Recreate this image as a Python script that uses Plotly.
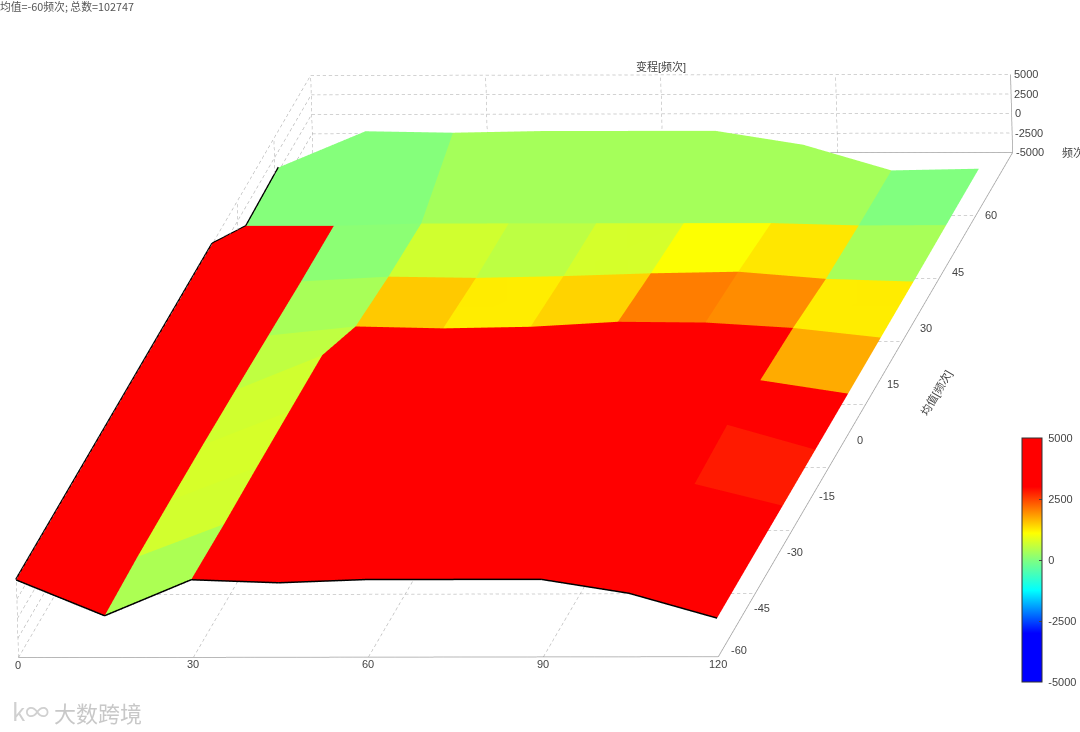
import numpy as np
import plotly.graph_objects as go

x_vals = [0, 15, 30, 45, 60, 75, 90, 105, 120]
y_vals = [-60, -45, -30, -15, 0, 15, 30, 45, 60]
z_rows = [
    [5000, 400, 5000, 4600, 5000, 5000, 5000, 3200, 0],
    [5000, 720, 4900, 5000, 5000, 5000, 5000, 3400, 0],
    [5000, 760, 5000, 5000, 5000, 5000, 5000, 2800, 0],
    [5000, 710, 5000, 5000, 5000, 5000, 5000, 3200, 0],
    [5000, 560, 5000, 5000, 5000, 5000, 5000, 1730, 0],
    [5000, 360, 1510, 1250, 1440, 2070, 1960, 1250, 0],
    [5000, 120, 710, 540, 750, 1100, 1290, 360, 0],
    [60, 60, 340, 340, 340, 340, 340, 30, 60],
    [400, 5000, 4800, 5000, 5000, 5000, 3200, -100, 100],
]
x_ticks = [0, 30, 60, 90, 120]
z_ticks = [-5000, -2500, 0, 2500, 5000]
x_frame = [0, 120]
y_frame = [-60, 75]
z_frame = [-5000, 5000]
x_range = [-1, 121]
y_range = [-61, 76]
z_range = [-5100, 5100]
floor_lines = [-60 + 135 * n / 8 for n in range(9)]
title_text = "均值=-60频次; 总数=102747"

colorscale = [
    [0.0, "rgb(0,0,255)"], [0.2, "rgb(0,0,255)"], [0.375, "rgb(0,255,255)"],
    [0.5, "rgb(128,255,128)"], [0.61, "rgb(255,255,0)"], [0.8, "rgb(255,0,0)"],
    [1.0, "rgb(255,0,0)"],
]

x0, x1 = x_frame
y0, y1 = y_frame
z0, z1 = z_frame
# Screen length (px) of the frame along each axis, used for the view and for the dash length.
V_frame = np.array([[700.0, 295.0, -2.0], [0.0, 504.0, 78.0]])
frame_spans = np.array([x1 - x0, y1 - y0, z1 - z0], dtype=float)
range_spans = np.array([x_range[1] - x_range[0], y_range[1] - y_range[0], z_range[1] - z_range[0]], dtype=float)
V = V_frame * (range_spans / frame_spans)

Z = np.array(z_rows, dtype=float)
nx, ny = len(x_vals), len(y_vals)
X, Y = np.meshgrid(x_vals, y_vals)
idx = lambda j, i: j * nx + i
tri_i, tri_j, tri_k, cell = [], [], [], []
for j in range(ny - 1):
    for i in range(nx - 1):
        tri_i += [idx(j, i), idx(j, i)]
        tri_j += [idx(j, i + 1), idx(j + 1, i + 1)]
        tri_k += [idx(j + 1, i + 1), idx(j + 1, i)]
        cell += [Z[j, i], Z[j, i]]

fig = go.Figure()
fig.add_trace(go.Mesh3d(
    x=X.ravel(), y=Y.ravel(), z=Z.ravel(), i=tri_i, j=tri_j, k=tri_k,
    intensity=cell, intensitymode="cell", colorscale=colorscale, cmin=-5000, cmax=5000,
    flatshading=True, hoverinfo="skip",
    lighting=dict(ambient=1, diffuse=0, specular=0, fresnel=0, roughness=1,
                  facenormalsepsilon=0, vertexnormalsepsilon=0),
    colorbar=dict(
        x=1022 / 1080, xanchor="left", xpad=0, y=1 - 438 / 732, yanchor="top", ypad=0,
        len=244 / 732, thickness=20, tickvals=z_ticks, ticktext=["\u00a0" + str(t) for t in z_ticks],
        ticks="inside", ticklen=3,
        outlinecolor="#333", outlinewidth=1, tickfont=dict(size=11, color="#444", family="Liberation Sans"),
    ),
))


def lines(segments, color, width=1):
    xs, ys, zs = [], [], []
    for a, b in segments:
        xs += [a[0], b[0], None]
        ys += [a[1], b[1], None]
        zs += [a[2], b[2], None]
    fig.add_trace(go.Scatter3d(x=xs, y=ys, z=zs, mode="lines", hoverinfo="skip", showlegend=False,
                               line=dict(color=color, width=width)))


def dashed(a, b, period=6.0):
    a, b = np.array(a, float), np.array(b, float)
    px = np.linalg.norm(V_frame @ ((b - a) / frame_spans))
    n = max(int(px / period), 1)
    out = []
    for m in range(n):
        s = a + (b - a) * m / n
        e = a + (b - a) * (m + 0.55) / n
        out.append((tuple(s), tuple(e)))
    return out


grid = []
for z in z_ticks:
    grid += dashed((x0, y1, z), (x1, y1, z))
    grid += dashed((x0, y0, z), (x0, y1, z))
for x in x_ticks:
    grid += dashed((x, y0, z0), (x, y1, z0))
    grid += dashed((x, y1, z0), (x, y1, z1))
for y in floor_lines:
    grid += dashed((x0, y, z0), (x1, y, z0))
    grid += dashed((x0, y, z0), (x0, y, z1))
lines(grid, "#a6a6a6")
lines([((x0, y0, z0), (x1, y0, z0)), ((x1, y0, z0), (x1, y1, z0)),
       ((x0, y1, z0), (x1, y1, z0)), ((x1, y1, z0), (x1, y1, z1))], "#a0a0a0", 1.5)

edge = [(x_vals[0] - 0.1, y_vals[j], Z[j, 0] + 10) for j in range(ny)]
lines(list(zip(edge[:-1], edge[1:])), "black", 3)
edge = [(x_vals[i], y_vals[0] - 0.1, Z[0, i]) for i in range(nx)]
lines(list(zip(edge[:-1], edge[1:])), "black", 3)

font = dict(size=11, color="#444", family="Liberation Sans, Noto Sans CJK SC")
ann = []
for x in x_ticks:
    ann.append(dict(x=x, y=y0, z=z0, text=str(x), showarrow=False, xanchor="center", yanchor="top", yshift=1, font=font))
for y in y_vals:
    ann.append(dict(x=x1, y=y, z=z0, text=str(y), showarrow=False, xanchor="center",
                    xshift=21 if y == -60 else 11, yshift=7 if y == -60 else -7, font=font))
for z in z_ticks:
    ann.append(dict(x=x1, y=y1, z=z, text=str(z), showarrow=False, xanchor="left", xshift=1, font=font))
ann.append(dict(x=60, y=y1, z=z1, text="变程[频次]", showarrow=False, yanchor="bottom", font=font))
ann.append(dict(x=x1, y=y1, z=z0, text="频次", showarrow=False, xanchor="left", xshift=47, font=font))
ann.append(dict(x=x1, y=0, z=z0, text="均值[频次]", showarrow=False, textangle=-60, xshift=87, yshift=40, font=font))

# Camera: an orthographic view whose x axis runs level across the picture.
w_z = -V[0, 1] * V[1, 1] / (V[0, 2] * V[1, 2])
k2 = V[1, 1] ** 2 + V[1, 2] ** 2 * w_z
w_x = (k2 - V[0, 1] ** 2 - V[0, 2] ** 2 * w_z) / V[0, 0] ** 2
aspect = np.array([1 / np.sqrt(w_x), 1.0, 1 / np.sqrt(w_z)])
k = np.sqrt(k2)
r1 = V[0] / aspect / k
r2 = V[1] / aspect / k
view = np.cross(r1, r2)
ZOOM = 6.82
ROLL = np.radians(0.07)
aspect = aspect * ZOOM
center = r1 * 25.5 * ZOOM / k
DIST = 20.0
eye = center + view * DIST
up = r2 * np.cos(ROLL) + r1 * np.sin(ROLL)

fig.update_layout(
    width=1080, height=732, margin=dict(l=0, r=0, t=0, b=0, autoexpand=False), paper_bgcolor="white", showlegend=False,
    annotations=[
        dict(text=title_text, x=0, y=1, xref="paper", yref="paper", xanchor="left", yanchor="top", showarrow=False,
             xshift=-2, yshift=4, font=dict(size=10.8, color="#555", family="Noto Sans CJK SC")),
        dict(text="k∞", x=10 / 1080, y=1 - 710 / 732, xref="paper", yref="paper", xanchor="left", yanchor="middle",
             showarrow=False, font=dict(size=24, color="#d0d0d0", family="Noto Sans CJK SC")),
        dict(text="大数跨境", x=52 / 1080, y=1 - 712 / 732, xref="paper", yref="paper", xanchor="left", yanchor="middle",
             showarrow=False, font=dict(size=22, color="#c8c8c8", family="Noto Sans CJK SC")),
    ],
    scene=dict(
        domain=dict(x=[0, 1], y=[0, 1]),
        aspectmode="manual", aspectratio=dict(x=aspect[0], y=aspect[1], z=aspect[2]),
        camera=dict(projection=dict(type="orthographic"),
                    eye=dict(x=eye[0], y=eye[1], z=eye[2]),
                    center=dict(x=center[0], y=center[1], z=center[2]),
                    up=dict(x=up[0], y=up[1], z=up[2])),
        xaxis=dict(range=x_range, visible=False),
        yaxis=dict(range=y_range, visible=False),
        zaxis=dict(range=z_range, visible=False),
        annotations=ann,
    ),
)
fig.write_html("out.html", post_script="document.body.style.margin='0';", config={"displayModeBar": False})
